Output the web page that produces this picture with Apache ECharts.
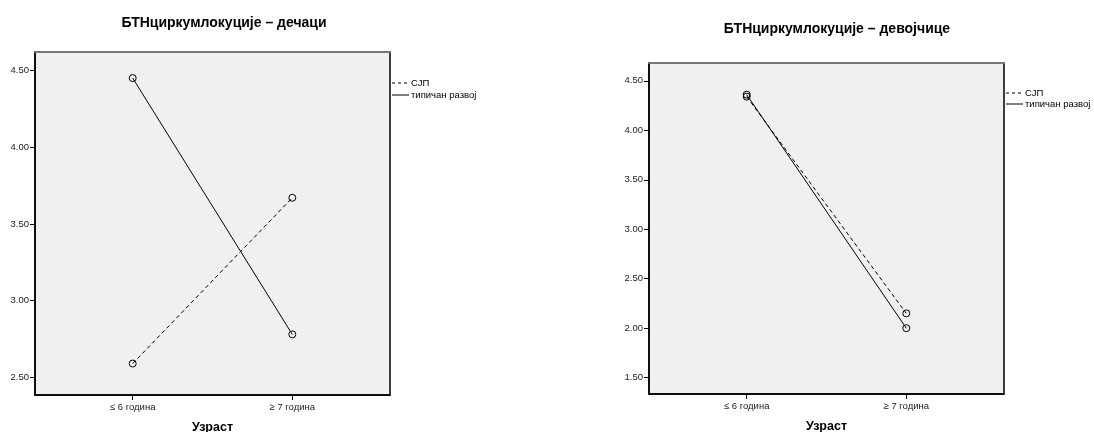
<!DOCTYPE html>
<html>
<head>
<meta charset="utf-8">
<script src="https://cdn.jsdelivr.net/npm/echarts@6/dist/echarts.min.js"></script>
<style>
html,body{margin:0;padding:0;background:#fff;}
#c{width:1094px;height:432px;}
</style>
</head>
<body>
<div id="c"></div>
<script>
// ---- data ----
const categories = ['≤ 6 година', '≥ 7 година'];
const titleBoys = 'БТНциркумлокуције – дечаци';
const titleGirls = 'БТНциркумлокуције – девојчице';
const axisName = 'Узраст';
const seriesNames = ['СЈП', 'типичан развој'];
const boysSJP = [2.59, 3.67];
const boysTypical = [4.45, 2.78];
const girlsSJP = [4.34, 2.15];
const girlsTypical = [4.36, 2.00];
const boysTicks = [2.5, 3.0, 3.5, 4.0, 4.5];
const girlsTicks = [1.5, 2.0, 2.5, 3.0, 3.5, 4.0, 4.5];

const FONT = 'Liberation Sans, Arial, sans-serif';
const pts = arr => arr.map((v, i) => [i, v]);

function xAxes(gi) {
  return [
    {
      type: 'value', gridIndex: gi, min: -0.612, max: 1.612,
      splitLine: {show: false},
      axisLine: {show: true, onZero: false, lineStyle: {color: '#000', width: 1.5}},
      axisTick: {show: true, customValues: [0, 1], length: 5, lineStyle: {color: '#000'}},
      axisLabel: {customValues: [0, 1], formatter: v => categories[Math.round(v)],
        fontFamily: FONT, fontSize: 9.5, color: '#222', margin: 7},
      name: axisName, nameLocation: 'middle', nameGap: 26,
      nameTextStyle: {fontFamily: FONT, fontSize: 12.5, fontWeight: 'bold', color: '#000'}
    },
    {
      type: 'value', gridIndex: gi, position: 'top', min: -0.612, max: 1.612,
      splitLine: {show: false},
      axisLine: {show: true, onZero: false, lineStyle: {color: '#777', width: 2}},
      axisTick: {show: false}, axisLabel: {show: false}
    }
  ];
}
function yAxis(gi, min, max, ticks) {
  return {
    type: 'value', gridIndex: gi, min: min, max: max,
    splitLine: {show: false},
    axisLine: {show: true, onZero: false, lineStyle: {color: '#000', width: 1.5}},
    axisTick: {show: true, customValues: ticks, length: 5, lineStyle: {color: '#000'}},
    axisLabel: {customValues: ticks, formatter: v => v.toFixed(2),
      fontFamily: FONT, fontSize: 9.5, color: '#222', margin: 6}
  };
}
function line(name, data, xi, yi, dashed) {
  return {
    type: 'line', name: name, xAxisIndex: xi, yAxisIndex: yi, data: pts(data),
    symbol: 'circle', symbolSize: 7, z: 3,
    itemStyle: {color: 'rgba(0,0,0,0)', borderColor: '#000', borderWidth: 1},
    lineStyle: {color: '#000', width: 1, type: dashed ? [4, 3] : 'solid'},
    emphasis: {disabled: true}, animation: false
  };
}
function legendItems(x, y1, y2) {
  return [
    {type: 'line', shape: {x1: x, y1: y1, x2: x + 17, y2: y1}, style: {stroke: '#000', lineWidth: 1, lineDash: [3, 3]}},
    {type: 'text', x: x + 19, y: y1, style: {text: seriesNames[0], font: '9.5px ' + FONT, fill: '#000', textVerticalAlign: 'middle'}},
    {type: 'line', shape: {x1: x, y1: y2, x2: x + 17, y2: y2}, style: {stroke: '#000', lineWidth: 1}},
    {type: 'text', x: x + 19, y: y2, style: {text: seriesNames[1], font: '9.5px ' + FONT, fill: '#000', textVerticalAlign: 'middle'}}
  ];
}

const chart = echarts.init(document.getElementById('c'), null, {renderer: 'canvas'});
chart.setOption({
  animation: false,
  backgroundColor: '#fff',
  title: [
    {text: titleBoys, left: 219, top: 11, textAlign: 'center',
      textStyle: {fontFamily: FONT, fontSize: 14, fontWeight: 'bold', color: '#000'}},
    {text: titleGirls, left: 832, top: 17, textAlign: 'center',
      textStyle: {fontFamily: FONT, fontSize: 14, fontWeight: 'bold', color: '#000'}}
  ],
  grid: [
    {left: 35, top: 52, width: 355, height: 343, show: true, backgroundColor: '#f0f0f0', borderColor: '#000', borderWidth: 1.5,
      containLabel: false, outerBoundsMode: 'none'},
    {left: 649, top: 63, width: 355, height: 331, show: true, backgroundColor: '#f0f0f0', borderColor: '#000', borderWidth: 1.5,
      containLabel: false, outerBoundsMode: 'none'}
  ],
  xAxis: [].concat(xAxes(0), xAxes(1)),
  yAxis: [yAxis(0, 2.385, 4.62, boysTicks), yAxis(1, 1.335, 4.68, girlsTicks)],
  series: [
    line(seriesNames[0], boysSJP, 0, 0, true),
    line(seriesNames[1], boysTypical, 0, 0, false),
    line(seriesNames[0], girlsSJP, 2, 1, true),
    line(seriesNames[1], girlsTypical, 2, 1, false)
  ],
  graphic: [].concat(legendItems(392, 83, 95), legendItems(1006, 93, 104))
});
</script>
</body>
</html>
